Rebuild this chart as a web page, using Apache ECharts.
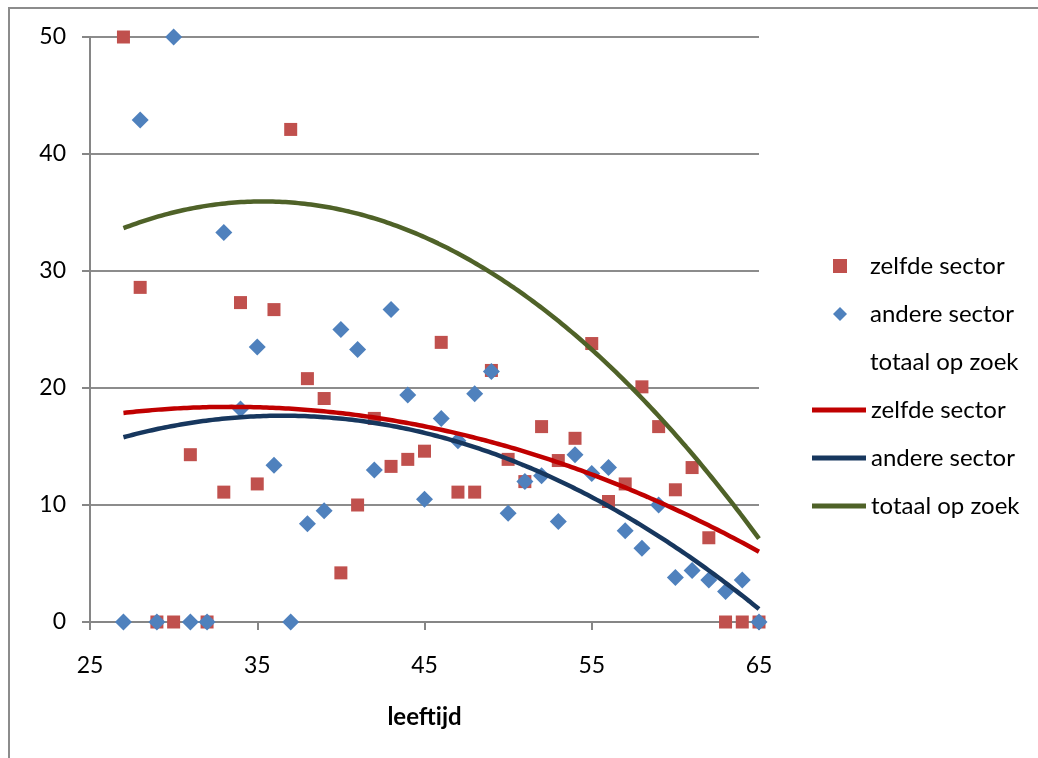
<!DOCTYPE html>
<html>
<head>
<meta charset="utf-8">
<style>
  html, body { margin: 0; padding: 0; background: #ffffff; }
  #chart { width: 1038px; height: 758px; }
</style>
<script src="https://cdn.jsdelivr.net/npm/echarts@6/dist/echarts.min.js"></script>
</head>
<body>
<div id="chart"></div>
<script>
// Ages on the horizontal axis
const ages = [27, 28, 29, 30, 31, 32, 33, 34, 35, 36, 37, 38, 39, 40, 41, 42, 43,
  44, 45, 46, 47, 48, 49, 50, 51, 52, 53, 54, 55, 56, 57, 58, 59, 60, 61, 62, 63, 64, 65];

// Percentage looking for a job in the same sector, per age
const zelfdeSector = [50.0, 28.6, 0.0, 0.0, 14.3, 0.0, 11.1, 27.3, 11.8, 26.7, 42.1, 20.8, 19.1,
  4.2, 10.0, 17.4, 13.3, 13.9, 14.6, 23.9, 11.1, 11.1, 21.5, 13.9, 12.0, 16.7, 13.8, 15.7,
  23.8, 10.3, 11.8, 20.1, 16.7, 11.3, 13.2, 7.2, 0.0, 0.0, 0.0];

// Percentage looking for a job in another sector, per age
const andereSector = [0.0, 42.9, 0.0, 50.0, 0.0, 0.0, 33.3, 18.2, 23.5, 13.4, 0.0, 8.4, 9.5,
  25.0, 23.3, 13.0, 26.7, 19.4, 10.5, 17.4, 15.5, 19.5, 21.4, 9.3, 12.0, 12.5, 8.6, 14.3,
  12.7, 13.2, 7.8, 6.3, 10.0, 3.8, 4.4, 3.6, 2.6, 3.6, 0.0];

// Total percentage looking for a job, per age (series shown without markers)
const totaalOpZoek = [50.0, 71.5, 0.0, 50.0, 14.3, 0.0, 44.4, 45.5, 35.3, 40.1, 42.1, 29.2, 28.6,
  29.2, 33.3, 30.4, 40.0, 33.3, 25.1, 41.3, 26.6, 30.6, 42.9, 23.2, 24.0, 29.2, 22.4, 30.0,
  36.5, 23.5, 19.6, 26.4, 26.7, 15.1, 17.6, 10.8, 2.6, 3.6, 0.0];

// Axis tick values
const xTicks = [25, 35, 45, 55, 65];
const yTicks = [0, 10, 20, 30, 40, 50];

const FONT = 'Lato, "Open Sans", sans-serif';

function pairs(xs, ys) {
  return xs.map((x, i) => [x, ys[i]]);
}

// Second-order least-squares polynomial trend line over the data range
function polyTrend(xs, ys, steps) {
  const n = xs.length;
  const s = [0, 0, 0, 0, 0], t = [0, 0, 0];
  for (let i = 0; i < n; i++) {
    let p = 1;
    for (let k = 0; k <= 4; k++) {
      s[k] += p;
      if (k <= 2) t[k] += p * ys[i];
      p *= xs[i];
    }
  }
  // Solve the 3x3 normal equations
  const A = [
    [s[0], s[1], s[2], t[0]],
    [s[1], s[2], s[3], t[1]],
    [s[2], s[3], s[4], t[2]]
  ];
  for (let c = 0; c < 3; c++) {
    for (let r = c + 1; r < 3; r++) {
      const f = A[r][c] / A[c][c];
      for (let k = c; k < 4; k++) A[r][k] -= f * A[c][k];
    }
  }
  const b = [0, 0, 0];
  for (let r = 2; r >= 0; r--) {
    let v = A[r][3];
    for (let k = r + 1; k < 3; k++) v -= A[r][k] * b[k];
    b[r] = v / A[r][r];
  }
  const lo = Math.min(...xs), hi = Math.max(...xs);
  const out = [];
  for (let i = 0; i <= steps; i++) {
    const x = lo + (hi - lo) * i / steps;
    out.push([x, b[0] + b[1] * x + b[2] * x * x]);
  }
  return out;
}

const chart = echarts.init(document.getElementById('chart'), null, { renderer: 'canvas' });

const trendNames = {
  'trend-zelfde': 'zelfde sector',
  'trend-andere': 'andere sector',
  'trend-totaal': 'totaal op zoek'
};

const legendText = { fontFamily: FONT, fontSize: 24, lineHeight: 24, color: '#000' };

const option = {
  animation: false,
  backgroundColor: '#ffffff',
  textStyle: { fontFamily: FONT },
  grid: { left: 90, right: 279, top: 37, bottom: 136, containLabel: false },
  graphic: [{
    type: 'rect',
    shape: { x: 9, y: 8, width: 1100, height: 900 },
    style: { fill: 'none', stroke: '#8c8c8c', lineWidth: 2 },
    silent: true,
    z: -10
  }],
  xAxis: {
    type: 'value',
    min: xTicks[0],
    max: xTicks[xTicks.length - 1],
    interval: 10,
    name: 'leeftijd',
    nameLocation: 'middle',
    nameGap: 83,
    nameTextStyle: { fontFamily: FONT, fontSize: 24, fontWeight: 'bold', color: '#000' },
    axisLine: { show: true, onZero: false, lineStyle: { color: '#868686', width: 2 } },
    axisTick: { show: true, length: 8, lineStyle: { color: '#868686', width: 2 } },
    axisLabel: { margin: 32, fontFamily: FONT, fontSize: 23, color: '#000' },
    splitLine: { show: false }
  },
  yAxis: {
    type: 'value',
    min: yTicks[0],
    max: yTicks[yTicks.length - 1],
    interval: 10,
    axisLine: { show: true, lineStyle: { color: '#868686', width: 2 } },
    axisTick: { show: true, length: 8, lineStyle: { color: '#868686', width: 2 } },
    axisLabel: { margin: 24, fontFamily: FONT, fontSize: 23, color: '#000' },
    splitLine: { show: true, lineStyle: { color: '#8c8c8c', width: 2 } }
  },
  legend: [{
    orient: 'vertical',
    left: 833,
    top: 254,
    padding: 0,
    itemWidth: 14,
    itemHeight: 14,
    itemGap: 24,
    selectedMode: false,
    textStyle: Object.assign({ padding: [0, 0, 0, 18] }, legendText),
    data: [
      { name: 'zelfde sector' },
      { name: 'andere sector' },
      { name: 'totaal op zoek', itemStyle: { opacity: 0 } }
    ]
  }, {
    orient: 'vertical',
    left: 812,
    top: 398,
    padding: 0,
    itemWidth: 54,
    itemHeight: 5,
    itemGap: 24,
    icon: 'rect',
    selectedMode: false,
    formatter: name => trendNames[name],
    textStyle: legendText,
    data: ['trend-zelfde', 'trend-andere', 'trend-totaal']
  }],
  series: [
    {
      name: 'zelfde sector',
      type: 'scatter',
      symbol: 'rect',
      symbolSize: 13,
      itemStyle: { color: '#C0504D', opacity: 1 },
      data: pairs(ages, zelfdeSector),
      z: 2
    },
    {
      name: 'andere sector',
      type: 'scatter',
      symbol: 'diamond',
      symbolSize: 17,
      itemStyle: { color: '#4F81BD', opacity: 1 },
      data: pairs(ages, andereSector),
      z: 3
    },
    {
      name: 'totaal op zoek',
      type: 'scatter',
      symbol: 'rect',
      symbolSize: 0,
      itemStyle: { color: '#9BBB59', opacity: 0 },
      data: pairs(ages, totaalOpZoek),
      silent: true,
      z: 1
    },
    {
      name: 'trend-zelfde',
      type: 'line',
      showSymbol: false,
      symbol: 'none',
      lineStyle: { color: '#C00000', width: 4.5 },
      itemStyle: { color: '#C00000' },
      data: polyTrend(ages, zelfdeSector, 200),
      z: 4
    },
    {
      name: 'trend-andere',
      type: 'line',
      showSymbol: false,
      symbol: 'none',
      lineStyle: { color: '#17375E', width: 4.5 },
      itemStyle: { color: '#17375E' },
      data: polyTrend(ages, andereSector, 200),
      z: 5
    },
    {
      name: 'trend-totaal',
      type: 'line',
      showSymbol: false,
      symbol: 'none',
      lineStyle: { color: '#4F6228', width: 4.5 },
      itemStyle: { color: '#4F6228' },
      data: polyTrend(ages, totaalOpZoek, 200),
      z: 6
    }
  ]
};

chart.setOption(option);
</script>
</body>
</html>
